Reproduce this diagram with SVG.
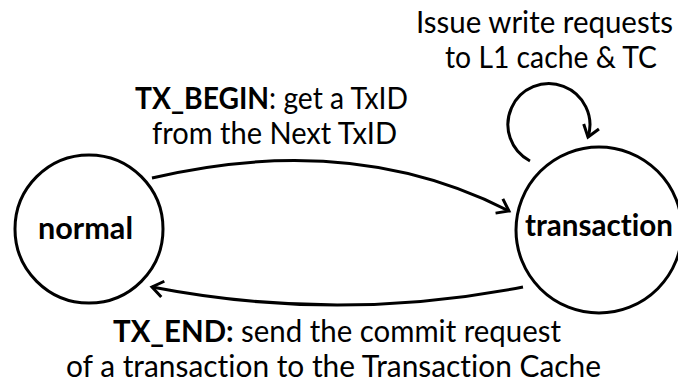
<svg xmlns="http://www.w3.org/2000/svg" width="678" height="385" viewBox="0 0 678 385">
  <style>
    .state { fill: #ffffff; stroke: #000000; stroke-width: 3; }
    .edge { fill: none; stroke: #000000; stroke-width: 3; }
    .txt { font-family: "Lato", "Carlito", "Liberation Sans", sans-serif; font-size: 30px; fill: #000000; font-variant-ligatures: none; font-feature-settings: "liga" 0, "clig" 0; }
    .b { font-weight: bold; }
  </style>
  <defs>
    <marker id="arrow" markerUnits="userSpaceOnUse" viewBox="-16 -16 32 32" markerWidth="32" markerHeight="32" refX="0" refY="0" orient="auto">
      <path d="M-11,-8 L0,0 L-11,8" fill="none" stroke="#000000" stroke-width="3" stroke-linejoin="miter"/>
    </marker>
  </defs>
  <rect width="678" height="385" fill="#ffffff"/>

  <g id="connectors">
    <path id="edge-begin" class="edge" d="M152,178 C250,155 380,145 509,211" marker-end="url(#arrow)"/>
    <path id="edge-end" class="edge" d="M523,287 Q337,323 152,287" marker-end="url(#arrow)"/>
    <path id="edge-self" class="edge" d="M530,161 A41,41 0 1 1 588,137" marker-end="url(#arrow)"/>
  </g>

  <g id="node-normal">
    <circle class="state" cx="89" cy="229" r="74"/>
    <text class="txt b" x="38" y="239" textLength="95" lengthAdjust="spacingAndGlyphs">normal</text>
  </g>

  <g id="node-transaction">
    <circle class="state" cx="599" cy="230" r="83"/>
    <text class="txt b" x="525" y="236" textLength="148" lengthAdjust="spacingAndGlyphs">transaction</text>
  </g>

  <g id="labels">
    <text class="txt" x="416" y="33" textLength="257" lengthAdjust="spacingAndGlyphs">Issue write requests</text>
    <text class="txt" x="445" y="68" textLength="212" lengthAdjust="spacingAndGlyphs">to L1 cache &amp; TC</text>
    <text class="txt" x="135" y="109" textLength="273" lengthAdjust="spacingAndGlyphs"><tspan class="b">TX_BEGIN</tspan>: get a TxID</text>
    <text class="txt" x="152" y="144" textLength="245" lengthAdjust="spacingAndGlyphs">from the Next TxID</text>
    <text class="txt" x="113" y="342" textLength="448" lengthAdjust="spacingAndGlyphs"><tspan class="b">TX_END:</tspan> send the commit request</text>
    <text class="txt" x="66" y="377" textLength="535" lengthAdjust="spacingAndGlyphs">of a transaction to the Transaction Cache</text>
  </g>
</svg>
